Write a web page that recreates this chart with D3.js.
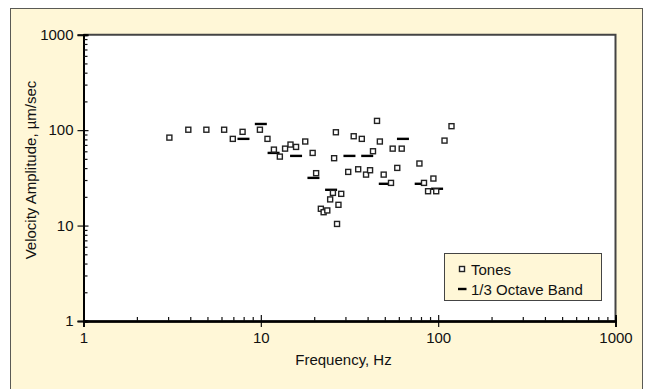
<!DOCTYPE html>
<html>
<head>
<meta charset="utf-8">
<script src="https://cdn.jsdelivr.net/npm/d3@7/dist/d3.min.js"></script>
<style>
  html, body { margin: 0; padding: 0; background: #ffffff; }
  svg { display: block; font-family: "Liberation Sans", Arial, Helvetica, sans-serif; }
</style>
</head>
<body>
<svg id="chart" width="646" height="389"></svg>
<script>
// Single tones: frequency (Hz) and velocity amplitude (µm/sec)
const toneFreq = [3.05, 3.9, 4.93, 6.21, 6.95, 7.89, 9.88, 10.9, 11.85, 12.8, 13.7, 14.7, 15.8, 17.8, 19.6, 20.5, 21.8, 22.6, 23.7, 24.6, 25.5, 25.9, 26.5, 26.9, 27.4, 28.4, 31.1, 33.4, 35.4, 37.1, 39.2, 41.3, 42.9, 45.2, 46.9, 49.3, 54.2, 55.4, 58.8, 62.3, 78.4, 83.2, 87.7, 94.0, 97.5, 108.6, 118.9];
const toneVel  = [83.5, 101, 101, 101, 81, 96, 101, 81, 62.5, 52.8, 64, 70.6, 66.7, 76, 57.7, 35.4, 15.0, 13.8, 14.4, 18.8, 22.0, 50.8, 95, 10.4, 16.5, 21.5, 36.5, 86.3, 38.9, 81, 34.2, 38.0, 60.1, 125, 76, 34.2, 28.0, 64, 40.2, 64, 44.7, 28.0, 22.9, 31.1, 22.9, 77.7, 110];

// 1/3 octave band levels
const bandFreq = [7.98, 10, 11.8, 15.8, 19.8, 24.9, 31.6, 39.8, 50, 63.3, 79.7, 98.6];
const bandVel  = [81, 116, 57.7, 53.7, 31.6, 23.7, 53.7, 53.7, 27.4, 81, 27.4, 24.3];

const axisTicks = [1, 10, 100, 1000];
const legendLabels = ["Tones", "1/3 Octave Band"];

const svg = d3.select("#chart");
const cream = "#fff7d7";

// outer panel
svg.append("rect").attr("x", 10.5).attr("y", 8.5).attr("width", 632).attr("height", 390)
  .attr("fill", cream).attr("stroke", "#5a5a55").attr("stroke-width", 1);

const plotLeft = 83.5, plotRight = 615.5, plotTop = 34.7, plotBottom = 321;
const x = d3.scaleLog().domain([1, 1000]).range([plotLeft, plotRight]);
const y = d3.scaleLog().domain([1, 1000]).range([plotBottom, plotTop]);

// plot area
svg.append("rect").attr("x", plotLeft).attr("y", plotTop)
  .attr("width", plotRight - plotLeft).attr("height", plotBottom - plotTop)
  .attr("fill", "#ffffff");
// frame: top and right edges
svg.append("path")
  .attr("d", `M${plotLeft},${plotTop}H${plotRight}V${plotBottom}`)
  .attr("fill", "none").attr("stroke", "#444").attr("stroke-width", 2);

// minor tick values
const minor = [];
for (let dec = 1; dec < 1000; dec *= 10) for (let k = 2; k <= 9; k++) minor.push(dec * k);

const fmt = d3.format("d");

// x axis
const gx = svg.append("g").attr("transform", `translate(0,${plotBottom})`);
gx.call(d3.axisBottom(x).tickValues(axisTicks).tickFormat(fmt).tickSize(6).tickPadding(5));
gx.append("g").call(d3.axisBottom(x).tickValues(axisTicks).tickFormat("").tickSize(-6));
gx.append("g").call(d3.axisBottom(x).tickValues(minor).tickFormat("").tickSize(-4));

// y axis
const gy = svg.append("g").attr("transform", `translate(${plotLeft},0)`);
gy.call(d3.axisLeft(y).tickValues(axisTicks).tickFormat(fmt).tickSize(6).tickPadding(4));
gy.append("g").call(d3.axisLeft(y).tickValues(axisTicks).tickFormat("").tickSize(-5));
gy.append("g").call(d3.axisLeft(y).tickValues(minor).tickFormat("").tickSize(-4));

svg.selectAll(".domain").attr("stroke", "#000").attr("stroke-width", 2);
svg.selectAll(".tick line").attr("stroke", "#111").attr("stroke-width", 1.2);
svg.selectAll(".tick text").attr("font-size", 15).attr("fill", "#111")
  .attr("font-family", "'Liberation Sans', Arial, sans-serif");

// axis titles
svg.append("text").attr("x", (plotLeft + plotRight) / 2 - 6).attr("y", 365)
  .attr("text-anchor", "middle").attr("font-size", 15).attr("fill", "#111")
  .text("Frequency, Hz");
svg.append("text").attr("transform", `translate(36,170) rotate(-90)`)
  .attr("text-anchor", "middle").attr("font-size", 15).attr("fill", "#111")
  .text("Velocity Amplitude, µm/sec");

// band levels as short horizontal bars
const bands = bandFreq.map((f, i) => ({ f, v: bandVel[i] }));
svg.append("g").selectAll("line").data(bands).join("line")
  .attr("x1", d => x(d.f) - 6).attr("x2", d => x(d.f) + 6)
  .attr("y1", d => y(d.v)).attr("y2", d => y(d.v))
  .attr("stroke", "#000").attr("stroke-width", 2.4);

// tones as open squares
const tones = toneFreq.map((f, i) => ({ f, v: toneVel[i] }));
const sq = 5;
svg.append("g").selectAll("rect").data(tones).join("rect")
  .attr("x", d => x(d.f) - sq / 2).attr("y", d => y(d.v) - sq / 2)
  .attr("width", sq).attr("height", sq)
  .attr("fill", "#fff").attr("stroke", "#222").attr("stroke-width", 1.4);

// legend
const lg = svg.append("g");
lg.append("rect").attr("x", 444.5).attr("y", 253.5).attr("width", 157).attr("height", 47)
  .attr("fill", cream).attr("stroke", "#444").attr("stroke-width", 1);
lg.append("rect").attr("x", 462 - sq / 2).attr("y", 269 - sq / 2).attr("width", sq).attr("height", sq)
  .attr("fill", "#fff").attr("stroke", "#222").attr("stroke-width", 1.4);
lg.append("line").attr("x1", 458).attr("x2", 466.5).attr("y1", 289).attr("y2", 289)
  .attr("stroke", "#000").attr("stroke-width", 2.4);
lg.selectAll("text.lab").data(legendLabels).join("text").attr("class", "lab")
  .attr("x", 471).attr("y", (d, i) => 274.5 + i * 20)
  .attr("font-size", 15).attr("fill", "#111").text(d => d);
</script>
</body>
</html>
